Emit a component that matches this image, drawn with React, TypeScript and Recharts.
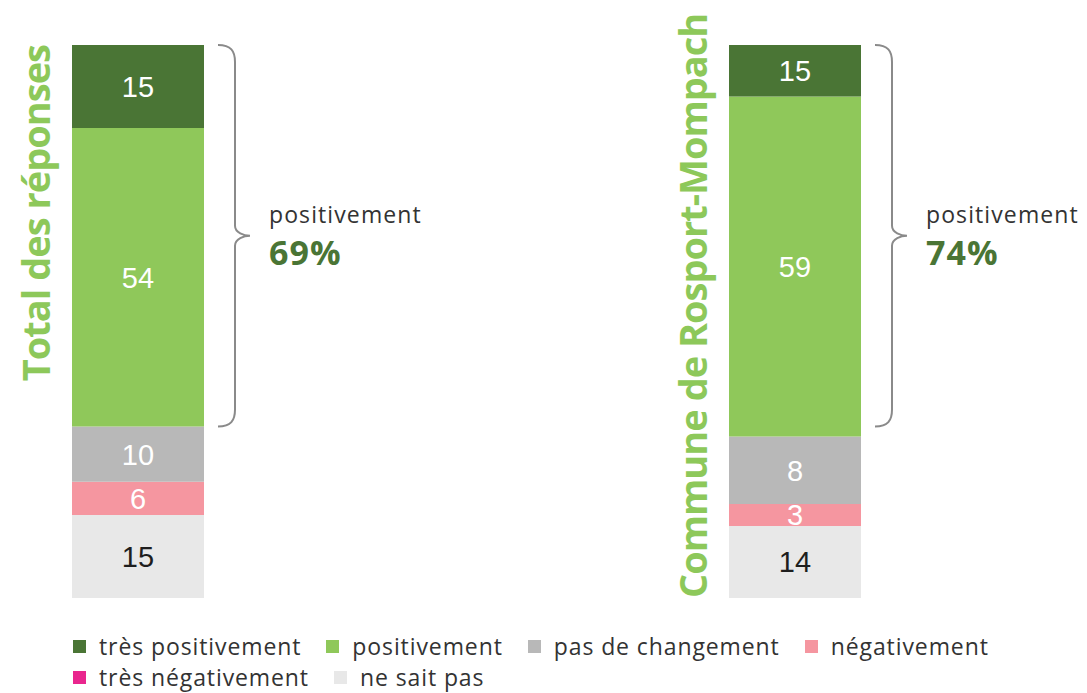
import React from "react";
import { BarChart, Bar, XAxis, YAxis, LabelList, ReferenceArea } from "recharts";

const CATEGORIES = [
  "très positivement",
  "positivement",
  "pas de changement",
  "négativement",
  "très négativement",
  "ne sait pas",
];
const KEYS = ["tp", "p", "pc", "n", "tn", "ns"];
const COLORS = ["#4a7535", "#8fc85a", "#b8b8b8", "#f596a0", "#e9268e", "#e8e8e8"];
const LABEL_COLORS = ["#ffffff", "#ffffff", "#ffffff", "#ffffff", "#ffffff", "#1e1e1e"];

// bar heights as drawn, and the numbers printed on them
const TOTAL_VALUES = [15, 54, 10, 6, 0, 15];
const TOTAL_LABELS = ["15", "54", "10", "6", "", "15"];
const ROSPORT_VALUES = [9.3, 61.5, 12.2, 4.0, 0, 13.0];
const ROSPORT_LABELS = ["15", "59", "8", "3", "", "14"];

const PANEL_TITLES = ["Total des réponses", "Commune de Rosport-Mompach"];
const POSITIVE_SHARE = ["69%", "74%"];
const BRACKET_RANGE: [number, number] = [31, 100];

const TEXT_FONT = "'Open Sans', sans-serif";
const NUM_FONT = "'Liberation Sans', Arial, sans-serif";

const buildRow = (name: string, values: number[], labels: string[]) => {
  const row: Record<string, string | number> = { name };
  KEYS.forEach((k, i) => {
    row[k] = values[i];
    row[k + "Label"] = labels[i];
  });
  return [row];
};

interface PanelProps {
  values: number[];
  labels: string[];
  title: string;
  share: string;
  left: number;
  width: number;
  axisWidth: number;
  titleX: number;
  titleY: number;
  titleAnchor: "start" | "end";
}

const Panel: React.FC<PanelProps> = ({
  values, labels, title, share, left, width, axisWidth, titleX, titleY, titleAnchor,
}) => {
  const data = buildRow(title, values, labels);
  const barWidth = 132;
  // stacking goes bottom -> top, so reverse the legend order
  const order = [5, 4, 3, 2, 1, 0];

  // eslint-disable-next-line @typescript-eslint/no-explicit-any
  const bracket = (p: any) => {
    const { x, y, width: w, height: h } = p;
    const xe = x + w;
    const xs = xe + 14;
    const xv = xe + 31;
    const xt = xe + 46;
    const y0 = y;
    const y1 = y + h;
    const ym = (y0 + y1) / 2;
    const d =
      `M${xs},${y0} C${xv - 4},${y0} ${xv},${y0 + 6} ${xv},${y0 + 17} ` +
      `L${xv},${ym - 10} C${xv},${ym - 3} ${xt - 6},${ym} ${xt},${ym} ` +
      `C${xt - 6},${ym} ${xv},${ym + 3} ${xv},${ym + 10} ` +
      `L${xv},${y1 - 17} C${xv},${y1 - 6} ${xv - 4},${y1} ${xs},${y1}`;
    return (
      <g>
        <path d={d} fill="none" stroke="#8a8a8a" strokeWidth={2} />
        <text x={xt + 19} y={ym - 13} fontFamily={TEXT_FONT} fontSize={23} letterSpacing={1.1} fill="#333333">
          positivement
        </text>
        <text x={xt + 19} y={ym + 29} fontFamily={TEXT_FONT} fontSize={34} fontWeight={700} letterSpacing={1} fill="#4a7535">
          {share}
        </text>
      </g>
    );
  };

  // eslint-disable-next-line @typescript-eslint/no-explicit-any
  const segmentLabel = (color: string) => (p: any) => (
    <text
      x={p.x + p.width / 2}
      y={p.y + p.height / 2}
      dy="0.36em"
      textAnchor="middle"
      fontFamily={NUM_FONT}
      fontSize={29}
      fill={color}
    >
      {p.value}
    </text>
  );

  return (
    <div style={{ position: "absolute", left, top: 0 }}>
      <BarChart
        width={width}
        height={693}
        data={data}
        margin={{ top: 45, right: width - axisWidth - barWidth, bottom: 95, left: 0 }}
        barCategoryGap={0}
      >
        <XAxis dataKey="name" hide />
        <YAxis
          type="number"
          domain={[0, 100]}
          width={axisWidth}
          tick={false}
          axisLine={false}
          tickLine={false}
          label={() => (
            <text
              x={titleX}
              y={titleY}
              transform={`rotate(-90, ${titleX}, ${titleY})`}
              textAnchor={titleAnchor}
              fontFamily={TEXT_FONT}
              fontSize={38}
              fontWeight={700}
              letterSpacing={-1}
              fill="#8dc85a"
            >
              {title}
            </text>
          )}
        />
        {order.map((i) => (
          <Bar key={KEYS[i]} dataKey={KEYS[i]} name={CATEGORIES[i]} stackId="a" fill={COLORS[i]} isAnimationActive={false}>
            {labels[i] !== "" && (
              <LabelList dataKey={KEYS[i] + "Label"} content={segmentLabel(LABEL_COLORS[i])} />
            )}
          </Bar>
        ))}
        <ReferenceArea y1={BRACKET_RANGE[0]} y2={BRACKET_RANGE[1]} shape={bracket} />
      </BarChart>
    </div>
  );
};

const App: React.FC = () => {
  return (
    <div style={{ position: "absolute", left: 0, top: 0, width: 1087, height: 693, background: "#fff" }}>
      <Panel
        values={TOTAL_VALUES}
        labels={TOTAL_LABELS}
        title={PANEL_TITLES[0]}
        share={POSITIVE_SHARE[0]}
        left={0}
        width={560}
        axisWidth={72}
        titleX={50}
        titleY={45}
        titleAnchor="end"
      />
      <Panel
        values={ROSPORT_VALUES}
        labels={ROSPORT_LABELS}
        title={PANEL_TITLES[1]}
        share={POSITIVE_SHARE[1]}
        left={560}
        width={527}
        axisWidth={169}
        titleX={147}
        titleY={598}
        titleAnchor="start"
      />
      <div
        style={{
          position: "absolute", left: 73, top: 631, width: 960,
          display: "flex", flexWrap: "wrap",
          fontFamily: TEXT_FONT, fontSize: 23, letterSpacing: 0.9, color: "#333333", lineHeight: "31px",
        }}
      >
        {CATEGORIES.map((c, i) => (
          <div key={c} style={{ display: "flex", alignItems: "center", marginRight: 25 }}>
            <span style={{ width: 13, height: 13, background: COLORS[i], marginRight: 13, display: "inline-block" }} />
            <span>{c}</span>
          </div>
        ))}
      </div>
    </div>
  );
};

export default App;
